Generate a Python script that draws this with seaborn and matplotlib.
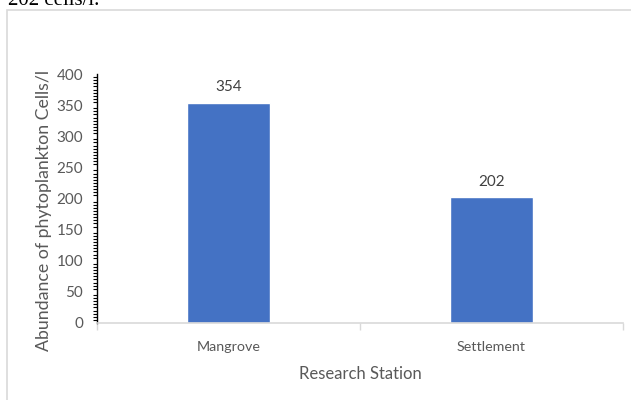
import matplotlib
matplotlib.use("Agg")
from matplotlib import pyplot as plt
from matplotlib.ticker import MultipleLocator, FixedLocator
import seaborn as sns

stations = ["Mangrove", "Settlement"]
abundance = [354, 202]

sns.set_theme(style="white")
plt.rcParams["font.family"] = ["Lato", "DejaVu Sans"]

fig = plt.figure(figsize=(6.31, 4.0), dpi=100)

# outer chart frame (only left/top edges visible in the crop)
fig.patches.append(plt.Rectangle((7 / 631, -0.1), 1.2, (390 / 400) + 0.1,
                                 transform=fig.transFigure, fill=False,
                                 edgecolor="#d9d9d9", linewidth=1.2))
# cut-off document text above the chart
fig.text(8 / 631, 1 - 5 / 400, "202 cells/l.", family="Liberation Serif",
         fontsize=15, color="black", va="baseline", ha="left")

ax = fig.add_axes([97 / 631, 77 / 400, 526 / 631, 249 / 400])
sns.barplot(x=stations, y=abundance, color="#4472C4", saturation=1,
            width=0.315, ax=ax)
ax.bar_label(ax.containers[0], padding=6, fontsize=11, color="#404040")

ax.set_xlim(-0.5, 1.5)
ax.set_ylim(0, 400)
ax.yaxis.set_major_locator(MultipleLocator(50))
ax.yaxis.set_minor_locator(MultipleLocator(5))
ax.xaxis.set_minor_locator(FixedLocator([-0.5, 0.5, 1.5]))

for side in ["top", "right"]:
    ax.spines[side].set_visible(False)
ax.spines["left"].set_color("black")
ax.spines["left"].set_linewidth(1.0)
ax.spines["bottom"].set_color("#d9d9d9")
ax.spines["bottom"].set_linewidth(1.2)

ax.tick_params(axis="y", which="major", direction="inout", length=6,
               width=1, color="black", labelsize=11, labelcolor="#595959", pad=7)
ax.tick_params(axis="y", which="minor", direction="out", length=3,
               width=0.8, color="black", left=True)
ax.tick_params(axis="x", which="major", length=0, labelsize=10.3,
               labelcolor="#595959", pad=13)
ax.tick_params(axis="x", which="minor", direction="out", length=5,
               width=1, color="#d9d9d9", bottom=True)

ax.set_xlabel("Research Station", fontsize=12, color="#595959", labelpad=9)
ax.set_ylabel("Abundance of phytoplankton Cells/l", fontsize=12.8,
              color="#595959", va="center")
ax.yaxis.set_label_coords(-0.101, 0.45)

fig.savefig("out.png", dpi=100)
